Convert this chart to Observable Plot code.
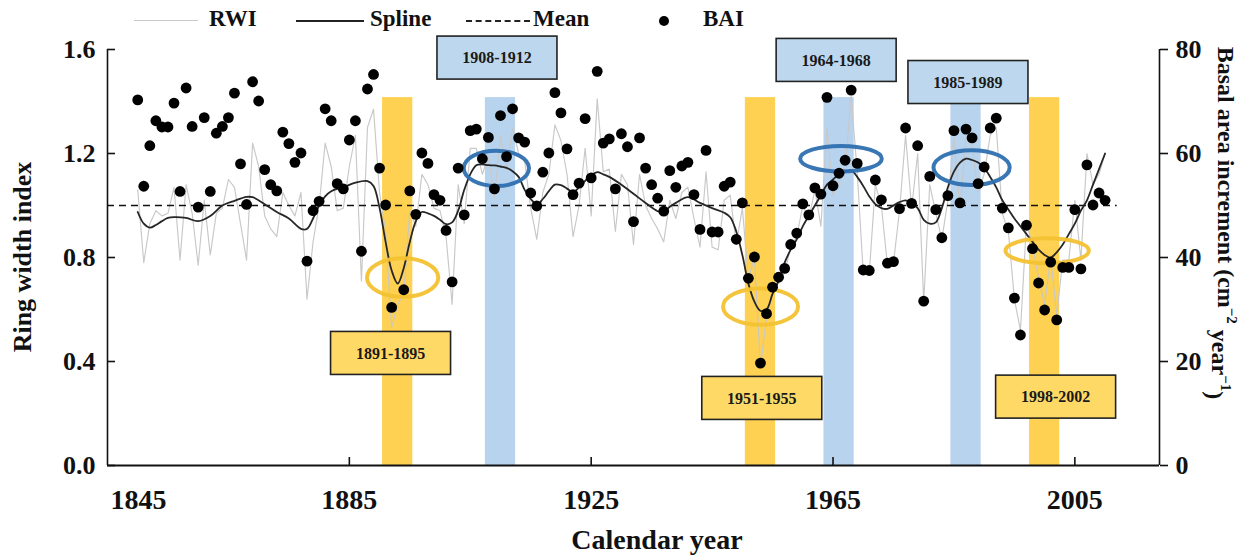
<!DOCTYPE html>
<html>
<head>
<meta charset="utf-8">
<script src="https://cdn.jsdelivr.net/npm/d3@7"></script>
<script src="https://cdn.jsdelivr.net/npm/@observablehq/plot@0.6"></script>
<style>
  body { margin: 0; background: #fff; }
  #chart { position: relative; width: 1244px; height: 556px; font-family: "Liberation Serif", "Times New Roman", serif; font-weight: bold; color: #111; }
  #legend { position: relative; width: 1244px; height: 36px; font-size: 23px; }
  #legend .sw { position: absolute; }
  #legend .lab { position: absolute; top: 6px; line-height: 26px; }
  #chart svg { display: block; }
</style>
</head>
<body>
<div id="chart">
  <div id="legend">
    <div class="sw" style="left:134px; top:20px; width:64px; border-top:1.5px solid #c8c8c8;"></div>
    <span class="lab" style="left:209px;">RWI</span>
    <div class="sw" style="left:296px; top:20px; width:68px; border-top:2px solid #222;"></div>
    <span class="lab" style="left:370px;">Spline</span>
    <div class="sw" style="left:466px; top:20px; width:64px; border-top:2px dashed #222;"></div>
    <span class="lab" style="left:533px;">Mean</span>
    <div class="sw" style="left:659px; top:16px; width:10px; height:10px; border-radius:50%; background:#000;"></div>
    <span class="lab" style="left:703px;">BAI</span>
  </div>
</div>
<script>
// Ring width index (RWI) and basal area increment (BAI, cm2 per year), one value per year from 1850
const firstYear = 1850;
const rwi = [
  1.06, 0.78, 0.93, 0.98, 0.96, 0.97, 1.07, 0.79, 1.08, 0.97,
  0.77, 1.02, 0.81, 0.97, 0.99, 1.10, 1.07, 0.93, 0.79, 1.24,
  1.15, 0.96, 0.91, 0.88, 1.05, 1.00, 0.96, 1.05, 0.64, 0.86,
  1.00, 1.24, 1.15, 0.98, 0.99, 1.15, 1.27, 0.71, 1.30, 1.37,
  1.05, 0.90, 0.53, 0.62, 0.66, 0.98, 0.92, 1.12, 1.08, 0.99,
  0.98, 0.88, 0.62, 1.08, 0.93, 1.22, 1.22, 1.12, 1.19, 1.03,
  1.27, 1.14, 1.30, 1.20, 1.17, 0.99, 0.87, 1.05, 1.12, 1.31,
  1.25, 1.12, 0.88, 1.00, 1.22, 0.96, 1.41, 1.13, 1.14, 0.90,
  1.12, 1.08, 0.85, 1.12, 1.00, 0.95, 0.91, 0.86, 1.02, 0.95,
  1.05, 1.07, 0.95, 0.84, 1.13, 0.84, 0.83, 1.02, 1.04, 0.85,
  0.99, 0.72, 0.80, 0.38, 0.57, 0.67, 0.71, 0.74, 0.84, 0.88,
  1.00, 0.95, 1.06, 0.92, 1.30, 1.04, 1.09, 1.14, 1.42, 1.13,
  0.74, 0.74, 1.08, 1.00, 0.77, 0.78, 0.98, 1.27, 0.99, 1.20,
  0.63, 1.08, 0.97, 0.87, 1.02, 1.26, 0.99, 1.26, 1.23, 1.05,
  1.12, 1.27, 1.30, 0.97, 0.90, 0.64, 0.52, 0.93, 0.85, 0.72,
  0.62, 0.80, 0.58, 0.79, 0.79, 1.02, 0.79, 1.20, 1.08, 1.12,
  1.20
];
const bai = [
  70.3, 53.7, 61.5, 66.3, 65.1, 65.1, 69.7, 52.7, 72.6, 65.2,
  49.7, 66.9, 52.7, 63.9, 65.2, 66.9, 71.6, 58.0, 50.2, 73.8,
  70.1, 56.9, 54.0, 52.8, 64.1, 61.9, 58.3, 60.1, 39.3, 49.0,
  50.8, 68.6, 66.3, 54.2, 53.2, 62.6, 66.3, 41.2, 72.4, 75.2,
  57.2, 50.1, 30.4, null, 33.8, 52.8, 48.3, 60.1, 58.1, 52.1,
  51.0, 45.2, 35.3, 57.2, 48.2, 64.4, 64.7, 59.0, 63.1, 53.2,
  67.3, 59.4, 68.6, 63.0, 62.2, 52.4, 49.9, 56.4, 60.1, 71.7,
  67.8, 60.9, 52.1, 54.3, 66.7, 55.3, 75.8, 62.0, 62.8, 53.2,
  63.8, 61.3, 46.9, 63.0, 57.2, 54.0, 51.4, 48.9, 56.7, 53.5,
  57.6, 58.3, 52.1, 45.4, 60.6, 44.9, 44.9, 53.7, 54.5, 43.5,
  50.5, 36.0, 40.1, 19.7, 29.2, 34.3, 36.2, 37.9, 42.5, 44.7,
  50.3, 48.2, 53.4, 52.2, 70.8, 53.8, 56.2, 58.7, 72.2, 58.1,
  37.6, 37.5, 54.9, 51.1, 38.9, 39.2, 49.4, 64.9, 50.4, 61.5,
  31.6, 55.6, 49.2, 43.8, 51.9, 64.4, 50.5, 64.7, 63.0, 54.2,
  57.4, 64.9, 66.8, 49.5, 45.7, 32.2, 25.1, 46.2, 41.7, 35.1,
  29.9, 39.1, 28.0, 38.1, 38.1, 49.2, 37.8, 57.8, 50.1, 52.4,
  51.0
];

// Smoothing spline fitted to the RWI series
const splineYears = [
  1850, 1851, 1852, 1853, 1854, 1855, 1856, 1858, 1860, 1862, 1864, 1866, 1868, 1869, 1871, 1873, 1875, 1877, 1878, 1879,
  1880, 1881, 1882, 1884, 1886, 1888, 1889, 1890, 1891, 1892, 1893, 1894, 1895, 1896, 1897, 1898, 1899, 1900, 1901, 1902,
  1903, 1904, 1905, 1906, 1907, 1908, 1909, 1910, 1911, 1912, 1913, 1914, 1915, 1916, 1917, 1918, 1919, 1920, 1921, 1922,
  1923, 1924, 1925, 1926, 1927, 1928, 1930, 1932, 1934, 1936, 1937, 1938, 1939, 1941, 1943, 1945, 1947, 1948, 1949, 1950,
  1951, 1952, 1953, 1954, 1955, 1956, 1957, 1958, 1959, 1960, 1961, 1962, 1963, 1964, 1965, 1966, 1967, 1968, 1969, 1970,
  1971, 1972, 1973, 1974, 1975, 1976, 1977, 1978, 1979, 1980, 1981, 1982, 1983, 1984, 1985, 1986, 1987, 1988, 1989, 1990,
  1991, 1992, 1993, 1994, 1995, 1996, 1997, 1998, 1999, 2000, 2001, 2002, 2003, 2004, 2005, 2006, 2007, 2008, 2009, 2010
];
const splineValues = [
  0.975, 0.930, 0.915, 0.925, 0.940, 0.952, 0.955, 0.952, 0.940, 0.960, 1.000, 1.018, 1.033, 1.032, 1.005, 0.975, 0.950, 0.910, 0.910, 0.950,
  1.000, 1.035, 1.055, 1.070, 1.088, 1.094, 1.075, 0.990, 0.860, 0.750, 0.700, 0.760, 0.860, 0.940, 0.975, 0.970, 0.960, 0.945, 0.928, 0.935,
  0.980, 1.060, 1.120, 1.155, 1.158, 1.155, 1.154, 1.150, 1.145, 1.132, 1.110, 1.060, 1.025, 1.005, 1.025, 1.055, 1.080, 1.078, 1.065, 1.052,
  1.070, 1.095, 1.115, 1.128, 1.120, 1.110, 1.080, 1.045, 1.010, 0.978, 0.975, 0.995, 1.010, 1.032, 1.010, 0.990, 0.972, 0.955, 0.900, 0.810,
  0.700, 0.630, 0.595, 0.600, 0.660, 0.710, 0.780, 0.830, 0.870, 0.920, 0.960, 1.000, 1.040, 1.080, 1.100, 1.120, 1.130, 1.135, 1.110, 1.075,
  1.035, 1.005, 0.990, 0.987, 1.000, 1.013, 1.020, 1.010, 0.990, 0.945, 0.930, 0.935, 0.990, 1.070, 1.130, 1.165, 1.180, 1.175, 1.165, 1.145,
  1.110, 1.070, 1.020, 0.985, 0.950, 0.920, 0.890, 0.860, 0.830, 0.810, 0.800, 0.820, 0.850, 0.890, 0.930, 0.980, 1.020, 1.080, 1.140, 1.200
];
const meanRWI = 1.0;

// Highlighted growth periods: gold = decline, blue = release
const periodLabels = ["1891-1895", "1908-1912", "1951-1955", "1964-1968", "1985-1989", "1998-2002"];
const periodStart  = [1891, 1908, 1951, 1964, 1985, 1998];
const periodEnd    = [1895, 1912, 1955, 1968, 1989, 2002];
const periodType   = ["decline", "release", "decline", "release", "release", "decline"];

// Axis ticks
const rwiTicks = [0, 0.4, 0.8, 1.2, 1.6];
const baiTicks = [0, 20, 40, 60, 80];
const yearLabels = [1845, 1885, 1925, 1965, 2005];
const yearTicks = [1885, 1925, 1965, 2005];

// Annotation placement (label box centre, ring centre and ring radii, in data units)
const annotations = [
  {box: [1891.9, 0.431], ring: [1893.9, 0.721, 5.9, 0.074]},
  {box: [1909.5, 1.567], ring: [1909.4, 1.141, 5.4, 0.068]},
  {box: [1953.3, 0.258], ring: [1953.1, 0.609, 6.2, 0.070]},
  {box: [1965.6, 1.558], ring: [1966.4, 1.178, 6.75, 0.049]},
  {box: [1987.4, 1.473], ring: [1988.0, 1.144, 6.3, 0.067]},
  {box: [2001.9, 0.263], ring: [2000.5, 0.824, 6.9, 0.048]}
];

const ratio = baiTicks[baiTicks.length - 1] / rwiTicks[rwiTicks.length - 1]; // BAI units per RWI unit
const barTop = 1.415;
const colors = {
  decline: {bar: "#ffd152", ring: "#f3c232", box: "#ffd966"},
  release: {bar: "#b8d3ee", ring: "#2e6fb0", box: "#bdd7ee"}
};

const series = rwi.map((v, i) => ({year: firstYear + i, rwi: v, bai: bai[i]}));
const dots = series.filter(d => d.bai != null);
const spline = splineYears.map((year, i) => ({year, value: splineValues[i]}));
const periods = periodLabels.map((label, i) => ({
  label, start: periodStart[i], end: periodEnd[i], type: periodType[i], ...annotations[i]
}));

const xMin = 1845, xMax = 2019;
const serif = '"Liberation Serif", "Times New Roman", serif';

// Rings drawn around each highlighted period
function rings(index, scales) {
  const g = d3.create("svg:g").attr("fill", "none").attr("stroke-width", 4);
  for (const p of periods) {
    const [cx, cy, rx, ry] = p.ring;
    const px = scales.x(cx), py = scales.y(cy);
    g.append("ellipse")
      .attr("cx", px).attr("cy", py)
      .attr("rx", Math.abs(scales.x(cx + rx) - px))
      .attr("ry", Math.abs(scales.y(cy + ry) - py))
      .attr("stroke", colors[p.type].ring)
      .attr("stroke-opacity", 0.95);
  }
  return g.node();
}

// Boxed period labels
function labelBoxes(index, scales) {
  const g = d3.create("svg:g");
  const w = 120, h = 43;
  for (const p of periods) {
    const [bx, by] = p.box;
    const px = scales.x(bx), py = scales.y(by);
    g.append("rect")
      .attr("x", px - w / 2).attr("y", py - h / 2)
      .attr("width", w).attr("height", h)
      .attr("fill", colors[p.type].box)
      .attr("stroke", "#222").attr("stroke-width", 1.6);
    g.append("text")
      .attr("x", px).attr("y", py)
      .attr("text-anchor", "middle").attr("dy", "0.35em")
      .attr("font-size", 16).attr("font-weight", "bold")
      .attr("font-family", serif).attr("fill", "#1a1a1a")
      .text(p.label);
  }
  return g.node();
}

// Axis titles
function titles(index, scales, values, dims) {
  const g = d3.create("svg:g").attr("font-family", serif).attr("font-weight", "bold").attr("fill", "#111");
  const midY = (dims.marginTop + dims.height - dims.marginBottom) / 2;
  g.append("text")
    .attr("transform", `translate(22,${midY}) rotate(-90)`)
    .attr("text-anchor", "middle").attr("dy", "0.35em")
    .attr("font-size", 26)
    .text("Ring width index");
  const right = g.append("text")
    .attr("transform", `translate(1226,${midY - 34}) rotate(90)`)
    .attr("text-anchor", "middle").attr("dy", "0.35em")
    .attr("font-size", 24);
  right.append("tspan").text("Basal area increment (cm");
  right.append("tspan").attr("font-size", 15).attr("dy", "-0.6em").text("\u22122");
  right.append("tspan").attr("dy", "0.6em").text(" year");
  right.append("tspan").attr("font-size", 15).attr("dy", "-0.6em").text("\u22121");
  right.append("tspan").attr("dy", "0.6em").text(")");
  g.append("text")
    .attr("x", 657)
    .attr("y", 513)
    .attr("text-anchor", "middle")
    .attr("font-size", 28)
    .text("Calendar year");
  return g.node();
}

const chart = Plot.plot({
  width: 1244,
  height: 520,
  marginLeft: 107,
  marginRight: 85,
  marginTop: 13,
  marginBottom: 91,
  x: {domain: [xMin, xMax], axis: null},
  y: {domain: [0, 1.6], axis: null},
  style: {fontFamily: serif, fontSize: "26px", fontWeight: "bold", color: "#111", background: "transparent", overflow: "visible"},
  marks: [
    // highlighted periods
    Plot.rect(periods, {
      x1: d => d.start - 0.5, x2: d => d.end + 0.5, y1: 0, y2: barTop,
      fill: d => colors[d.type].bar
    }),
    // annual ring width index
    Plot.line(series, {x: "year", y: "rwi", stroke: "#c8c8c8", strokeWidth: 1.15}),
    // long-term mean
    Plot.ruleY([meanRWI], {x1: xMin, x2: 2012, stroke: "#111", strokeWidth: 1.7, strokeDasharray: "7,5"}),
    // spline
    Plot.line(spline, {x: "year", y: "value", curve: "catmull-rom", stroke: "#262626", strokeWidth: 1.8}),
    rings,
    // basal area increment, on the secondary scale
    Plot.dot(dots, {x: "year", y: d => d.bai / ratio, r: 5.4, fill: "#000"}),
    labelBoxes,
    // frame lines
    Plot.ruleX([xMin, xMax], {y1: 0, y2: 1.6, stroke: "#111", strokeWidth: 1.6}),
    Plot.ruleY([0], {stroke: "#111", strokeWidth: 1.8}),
    // left axis: inward ticks and labels
    Plot.axisY(rwiTicks, {anchor: "left", tickSize: 8, dx: 8, tickFormat: () => "", stroke: "#111", strokeWidth: 1.6, label: null}),
    Plot.axisY(rwiTicks, {anchor: "left", tickSize: 0, tickPadding: 12, tickFormat: d3.format(".1f"), label: null}),
    // right axis: outward ticks and BAI labels
    Plot.axisY(rwiTicks, {anchor: "right", tickSize: 8, tickFormat: () => "", stroke: "#111", strokeWidth: 1.6, label: null}),
    Plot.text(baiTicks, {x: xMax, y: d => d / ratio, text: d => String(d), dx: 16, textAnchor: "start", fontSize: 26}),
    // bottom axis: inward ticks and year labels (the first label sits just inside the corner)
    Plot.axisX(yearTicks, {anchor: "bottom", tickSize: 8, dy: -8, tickFormat: () => "", stroke: "#111", strokeWidth: 1.6, label: null}),
    Plot.axisX(yearLabels.slice(0, 1), {anchor: "bottom", tickSize: 0, tickPadding: 24, dx: 31, fontSize: 28, tickFormat: d => String(d), label: null}),
    Plot.axisX(yearLabels.slice(1), {anchor: "bottom", tickSize: 0, tickPadding: 24, fontSize: 28, tickFormat: d => String(d), label: null}),
    titles
  ]
});

document.getElementById("chart").appendChild(chart);
</script>
</body>
</html>
